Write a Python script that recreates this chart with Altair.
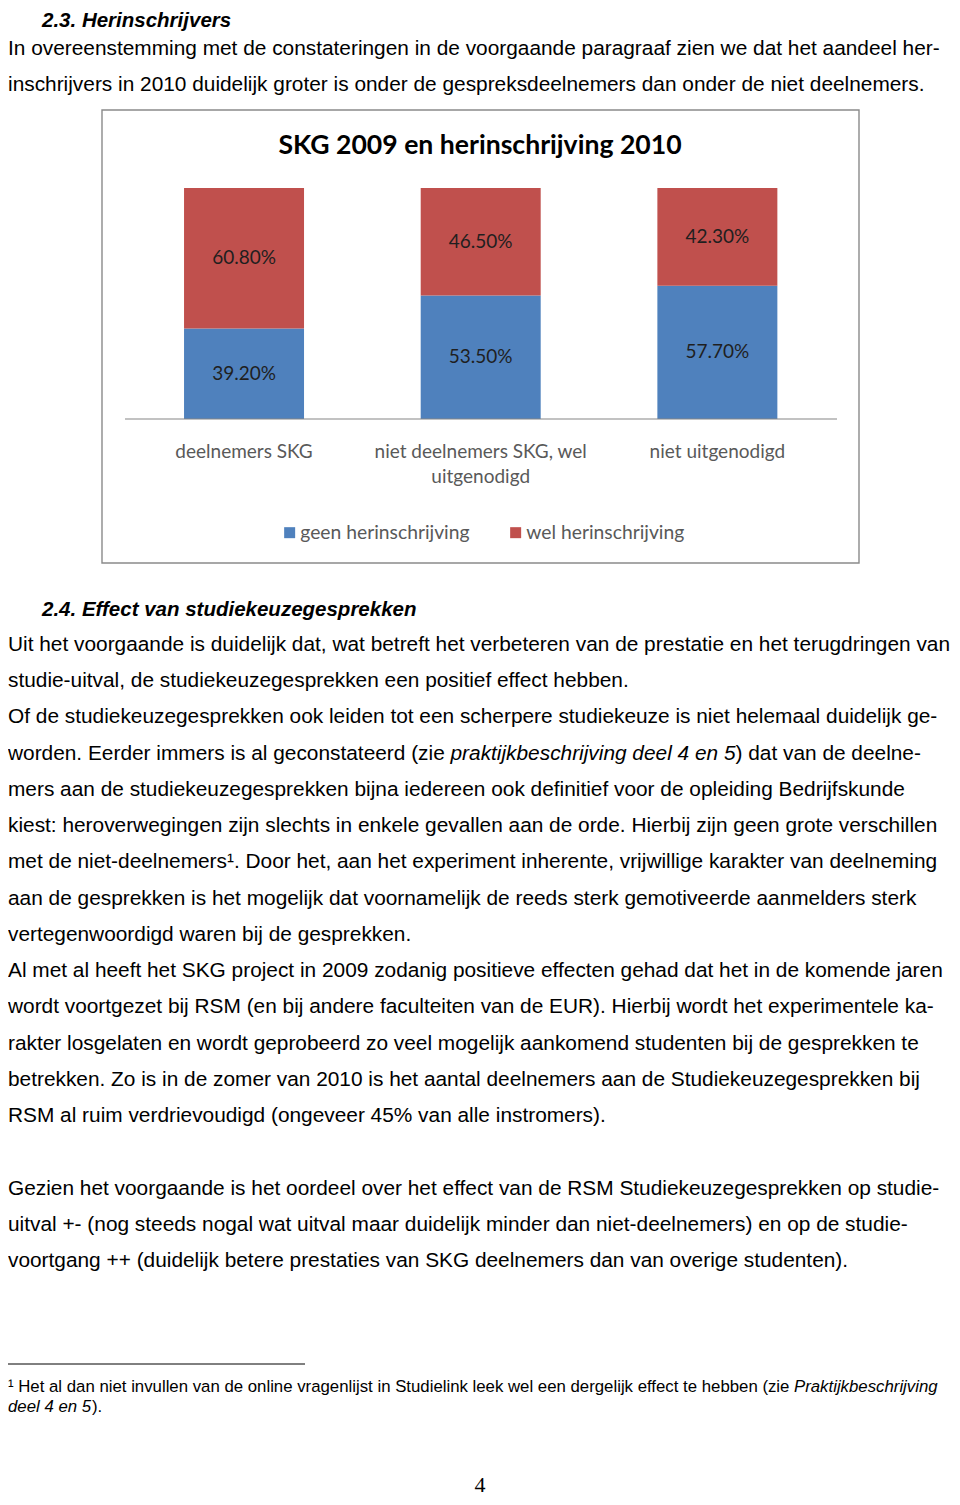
import altair as alt
import pandas as pd

# ---------------- chart data ----------------
categories = ["deelnemers SKG", "niet deelnemers SKG, wel uitgenodigd", "niet uitgenodigd"]
axis_labels = ["deelnemers SKG", "niet deelnemers SKG, wel\nuitgenodigd", "niet uitgenodigd"]
series = ["geen herinschrijving", "wel herinschrijving"]
geen_values = [0.392, 0.535, 0.577]
wel_values = [0.608, 0.465, 0.423]
series_colors = ["#4F81BD", "#C0504D"]
chart_title = "SKG 2009 en herinschrijving 2010"

# ---------------- page text ----------------
heading_1 = "2.3. Herinschrijvers"
para_1 = [
    "In overeenstemming met de constateringen in de voorgaande paragraaf zien we dat het aandeel her-",
    "inschrijvers in 2010 duidelijk groter is onder de gespreksdeelnemers dan onder de niet deelnemers.",
]
heading_2 = "2.4. Effect van studiekeuzegesprekken"
body_lines = [
    "Uit het voorgaande is duidelijk dat, wat betreft het verbeteren van de prestatie en het terugdringen van",
    "studie-uitval, de studiekeuzegesprekken een positief effect hebben.",
    "Of de studiekeuzegesprekken ook leiden tot een scherpere studiekeuze is niet helemaal duidelijk ge-",
    "worden. Eerder immers is al geconstateerd (zie ",
    "mers aan de studiekeuzegesprekken bijna iedereen ook definitief voor de opleiding Bedrijfskunde",
    "kiest: heroverwegingen zijn slechts in enkele gevallen aan de orde. Hierbij zijn geen grote verschillen",
    "met de niet-deelnemers\u00b9. Door het, aan het experiment inherente, vrijwillige karakter van deelneming",
    "aan de gesprekken is het mogelijk dat voornamelijk de reeds sterk gemotiveerde aanmelders sterk",
    "vertegenwoordigd waren bij de gesprekken.",
    "Al met al heeft het SKG project in 2009 zodanig positieve effecten gehad dat het in de komende jaren",
    "wordt voortgezet bij RSM (en bij andere faculteiten van de EUR). Hierbij wordt het experimentele ka-",
    "rakter losgelaten en wordt geprobeerd zo veel mogelijk aankomend studenten bij de gesprekken te",
    "betrekken. Zo is in de zomer van 2010 is het aantal deelnemers aan de Studiekeuzegesprekken bij",
    "RSM al ruim verdrievoudigd (ongeveer 45% van alle instromers).",
]
conclusion_lines = [
    "Gezien het voorgaande is het oordeel over het effect van de RSM Studiekeuzegesprekken op studie-",
    "uitval +- (nog steeds nogal wat uitval maar duidelijk minder dan niet-deelnemers) en op de studie-",
    "voortgang ++ (duidelijk betere prestaties van SKG deelnemers dan van overige studenten).",
]
body_italic = "praktijkbeschrijving deel 4 en 5"
body_rest = ") dat van de deelne-"
footnote_1 = "\u00b9 Het al dan niet invullen van de online vragenlijst in Studielink leek wel een dergelijk effect te hebben (zie "
footnote_1_italic = "Praktijkbeschrijving"
footnote_2_italic = "deel 4 en 5"
footnote_2 = ")."
page_number = "4"

BODY_FONT = "Liberation Sans"
CHART_FONT = "Lato"
BODY_SIZE = 20.85
LINE = 36.24


def text_mark(text, x, y, size, font=BODY_FONT, style="normal", weight="normal",
              align="left", color="#000000", line_height=None):
    df = pd.DataFrame({"t": [text]})
    props = dict(font=font, fontSize=size, fontStyle=style, fontWeight=weight,
                 align=align, baseline="alphabetic", color=color)
    if line_height:
        props.update(lineBreak="\n", lineHeight=line_height)
    return alt.Chart(df).mark_text(**props).encode(
        x=alt.value(x), y=alt.value(y), text="t:N")


# ---------------- bar chart ----------------
rows = []
for i, c in enumerate(categories):
    rows.append({"group": c, "series": series[0], "value": geen_values[i], "order": 0})
    rows.append({"group": c, "series": series[1], "value": wel_values[i], "order": 1})
bars_df = pd.DataFrame(rows)
labels_df = pd.DataFrame({"group": categories, "label": axis_labels})

xscale = alt.Scale(domain=categories, range=[117.7, 827.7], paddingInner=0.493, paddingOuter=0.2465)
yscale = alt.Scale(domain=[0, 1], range=[411, 180], nice=False, zero=True)

box = alt.Chart(pd.DataFrame({"a": [0]})).mark_rect(
    fill="white", stroke="#8a8a8a", strokeWidth=1.4
).encode(x=alt.value(94), x2=alt.value(851), y=alt.value(102), y2=alt.value(555))

bars = alt.Chart(bars_df).mark_bar().encode(
    x=alt.X("group:N", scale=xscale, axis=None),
    y=alt.Y("value:Q", stack="zero", scale=yscale, axis=None),
    order=alt.Order("order:Q"),
    color=alt.Color(
        "series:N",
        scale=alt.Scale(domain=series, range=series_colors),
        legend=alt.Legend(
            title=None, orient="none", legendX=272, legendY=515,
            direction="horizontal", symbolType="square", symbolSize=121,
            symbolStrokeWidth=0, labelFont=CHART_FONT, labelFontSize=19.3,
            labelColor="#595959", labelOffset=1, columnPadding=36, labelLimit=400,
        ),
    ),
)

bar_text = alt.Chart(bars_df).transform_stack(
    stack="value", groupby=["group"], as_=["v0", "v1"],
    sort=[alt.SortField("order", "ascending")],
).transform_calculate(mid="(datum.v0 + datum.v1) / 2").mark_text(
    font=CHART_FONT, fontSize=19, color="#1f1f1f", baseline="middle", align="center"
).encode(
    x=alt.X("group:N", scale=xscale, axis=None),
    y=alt.Y("mid:Q", scale=yscale, axis=None),
    text=alt.Text("value:Q", format=".2%"),
)

axis_line = alt.Chart(pd.DataFrame({"a": [0]})).mark_rule(
    color="#868686", strokeWidth=1.2
).encode(x=alt.value(117), x2=alt.value(829), y=alt.Y(datum=0, scale=yscale, axis=None))

axis_text = alt.Chart(labels_df).mark_text(
    font=CHART_FONT, fontSize=19, color="#595959", baseline="alphabetic",
    align="center", lineBreak="\n", lineHeight=25,
).encode(x=alt.X("group:N", scale=xscale, axis=None), y=alt.value(450), text="label:N")

title = text_mark(chart_title, 472, 146, 26.6, font=CHART_FONT, weight="bold", align="center")

# ---------------- page text marks ----------------
h1 = text_mark(heading_1, 34, 19, 20.5, weight="bold", style="italic")
p1 = text_mark("\n".join(para_1), 0, 46.5, BODY_SIZE, line_height=36)
h2 = text_mark(heading_2, 34, 607.5, 20.5, weight="bold", style="italic")
body = text_mark("\n".join(body_lines), 0, 643, BODY_SIZE, line_height=LINE)
body_it = text_mark(body_italic, 442.5, 643 + 3 * LINE, BODY_SIZE, style="italic")
body_re = text_mark(body_rest, 727.5, 643 + 3 * LINE, BODY_SIZE)
concl = text_mark("\n".join(conclusion_lines), 0, 643 + 15 * LINE, BODY_SIZE, line_height=LINE)

foot_rule = alt.Chart(pd.DataFrame({"a": [0]})).mark_rule(color="#000000", strokeWidth=1).encode(
    x=alt.value(0), x2=alt.value(297), y=alt.value(1356))
f1 = text_mark(footnote_1, 0, 1384.3, 16.8)
f1i = text_mark(footnote_1_italic, 786, 1384.3, 16.8, style="italic")
f2i = text_mark(footnote_2_italic, 0, 1403.7, 16.8, style="italic")
f2 = text_mark(footnote_2, 84, 1403.7, 16.8)
pnum = text_mark(page_number, 472, 1484, 22, font="Liberation Serif", align="center")

chart = alt.layer(
    box, bars, bar_text, axis_line, axis_text, title,
    h1, p1, h2, body, body_it, body_re, concl, foot_rule, f1, f1i, f2i, f2, pnum,
).properties(
    width=944, height=1489, padding=0,
    autosize=alt.AutoSizeParams(type="none"),
).configure_view(stroke=None)

chart.save("out.html", embed_options={"renderer": "svg", "actions": False})
